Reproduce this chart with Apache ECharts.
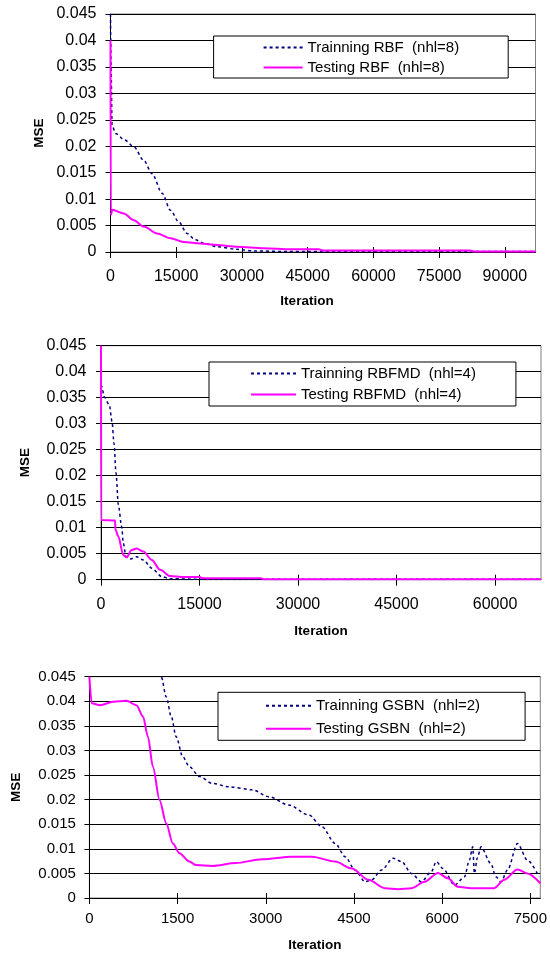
<html>
<head>
    <meta charset="utf-8">
    <script src="https://cdn.jsdelivr.net/npm/echarts@6.0.0/dist/echarts.min.js"></script>
    <style>
        body { margin: 0; background: #fff; }
        #chart { width: 550px; height: 956px; }
    </style>
</head>
<body>
    <div id="chart"></div>
</body>
<script type="text/javascript">
    // y 轴刻度 (三张图相同)
    var mseTicks = [0, 0.005, 0.01, 0.015, 0.02, 0.025, 0.03, 0.035, 0.04, 0.045];

    // 图1: RBF (nhl=8)
    var rbfTicks = [0, 15000, 30000, 45000, 60000, 75000, 90000];
    var rbfTrain = [[0, 0.045], [150, 0.034], [350, 0.024], [1140, 0.0224], [3200, 0.0212], [5320, 0.0199],
        [7600, 0.0173], [9500, 0.0148], [11780, 0.0111], [13680, 0.0079], [15570, 0.0057], [17480, 0.0035],
        [19380, 0.0023], [21500, 0.0016], [24300, 0.001], [28900, 0.0005], [33000, 0.0002], [40000, 0.0001],
        [97000, 0.0001]];
    var rbfTest = [[0, 0.04], [60, 0.0075], [150, 0.0071], [380, 0.008], [3030, 0.0073], [5320, 0.006],
        [7600, 0.0048], [10640, 0.0035], [13680, 0.0026], [16720, 0.0019], [20520, 0.0016], [24320, 0.0013],
        [28880, 0.001], [35000, 0.0007], [41000, 0.0005], [47500, 0.0005], [48500, 0.0003], [82000, 0.0003],
        [83000, 0.0001], [97000, 0.0001]];

    // 图2: RBFMD (nhl=4)
    var rbfmdTicks = [0, 15000, 30000, 45000, 60000];
    var rbfmdTrain = [[0, 0.0375], [150, 0.0371], [460, 0.0352], [1270, 0.0336], [1680, 0.0304], [1980, 0.0262],
        [2290, 0.0205], [2640, 0.0144], [3150, 0.0102], [3400, 0.007], [3810, 0.0044], [4500, 0.004],
        [5440, 0.0044], [6450, 0.0038], [7730, 0.0022], [9250, 0.0006], [10500, 0.0002], [14000, 0.0001],
        [67000, 0.0001]];
    var rbfmdTest = [[0, 0.045], [30, 0.0115], [2140, 0.0114], [2200, 0.0096], [2640, 0.0083], [3400, 0.0047],
        [3900, 0.0043], [4670, 0.0057], [5440, 0.006], [6450, 0.0054], [7730, 0.0038], [9000, 0.0019],
        [10530, 0.0007], [12560, 0.0005], [15000, 0.0005], [15500, 0.0003], [24300, 0.0003], [24800, 0.0001],
        [67000, 0.0001]];

    // 图3: GSBN (nhl=2)
    var gsbnTicks = [0, 1500, 3000, 4500, 6000, 7500];
    var gsbnTrain = [[1100, 0.052], [1222, 0.045], [1307, 0.0409], [1392, 0.0369], [1476, 0.0328], [1588, 0.0287],
        [1701, 0.0267], [1870, 0.0247], [2095, 0.0233], [2377, 0.0226], [2772, 0.022], [3054, 0.0206],
        [3392, 0.0189], [3730, 0.0169], [3955, 0.0145], [4181, 0.0111], [4350, 0.0084], [4519, 0.0057],
        [4689, 0.0033], [4801, 0.0037], [4970, 0.0057], [5168, 0.0081], [5309, 0.0074], [5477, 0.005],
        [5646, 0.0033], [5815, 0.0053], [5900, 0.0074], [6013, 0.006], [6211, 0.0026], [6380, 0.0043],
        [6464, 0.0077], [6520, 0.0104], [6549, 0.005], [6600, 0.0082], [6661, 0.0104], [6830, 0.007],
        [6915, 0.0043], [7000, 0.0033], [7113, 0.0057], [7282, 0.0111], [7451, 0.0077], [7648, 0.0043]];
    var gsbnTest = [[0, 0.045], [39, 0.0396], [180, 0.0392], [405, 0.0399], [630, 0.0401], [800, 0.0392],
        [912, 0.0369], [996, 0.0328], [1080, 0.0267], [1194, 0.0199], [1307, 0.0152], [1419, 0.0111],
        [1532, 0.0091], [1701, 0.0074], [1814, 0.0067], [2095, 0.0065], [2490, 0.0071], [2941, 0.0079],
        [3448, 0.0084], [3786, 0.0084], [4181, 0.0074], [4463, 0.006], [4745, 0.0037], [5027, 0.002],
        [5252, 0.0018], [5477, 0.002], [5703, 0.0033], [5929, 0.0051], [6098, 0.004], [6267, 0.0023],
        [6492, 0.002], [6887, 0.002], [7056, 0.0037], [7282, 0.0058], [7451, 0.005], [7670, 0.003]];

    var FONT = 'Liberation Sans';

    // 每张图的版面参数
    var panels = [
        { grid: { left: 110.5, top: 14, width: 425, height: 238 }, xMax: 97000, xTicks: rbfTicks,
          fs: 16, yMargin: 14, xMargin: 17, yGap: 64, xGap: 42, xNamePad: [0, 32, 0, 0],
          legend: { left: 213.6, top: 36, pad: [4, 49, 3, 49], w: 39, gap: 5 },
          names: ['Trainning RBF  (nhl=8)', 'Testing RBF  (nhl=8)'], train: rbfTrain, test: rbfTest },
        { grid: { left: 101, top: 345.7, width: 440, height: 234 }, xMax: 67000, xTicks: rbfmdTicks,
          fs: 16, yMargin: 14.5, xMargin: 17, yGap: 69, xGap: 45, xNamePad: [0, 0, 0, 0],
          legend: { left: 209, top: 362, pad: [4, 40, 4, 41], w: 45, gap: 6 },
          names: ['Trainning RBFMD  (nhl=4)', 'Testing RBFMD  (nhl=4)'], train: rbfmdTrain, test: rbfmdTest },
        { grid: { left: 89.4, top: 676.7, width: 453.6, height: 221.3 }, xMax: 7670, xTicks: gsbnTicks,
          fs: 15, yMargin: 13.5, xMargin: 13.5, yGap: 66, xGap: 40, xNamePad: [0, 0, 0, 0],
          legend: { left: 218, top: 692.3, pad: [6, 45, 4, 47], w: 45, gap: 8 },
          names: ['Trainning GSBN  (nhl=2)', 'Testing GSBN  (nhl=2)'], train: gsbnTrain, test: gsbnTest }
    ];

    var option = {
        animation: false,
        backgroundColor: '#fff',
        textStyle: { fontFamily: FONT, color: '#000' },
        grid: [], xAxis: [], yAxis: [], legend: [], series: []
    };

    panels.forEach(function (p, i) {
        option.grid.push({
            left: p.grid.left, top: p.grid.top, width: p.grid.width, height: p.grid.height,
            show: true, borderColor: '#808080', borderWidth: 1, backgroundColor: '#fff'
        });
        option.xAxis.push({
            type: 'value', gridIndex: i, min: 0, max: p.xMax,
            name: 'Iteration', nameLocation: 'middle', nameGap: p.xGap, nameMoveOverlap: false,
            nameTextStyle: { fontFamily: FONT, fontWeight: 'bold', fontSize: 13.5, color: '#000', padding: p.xNamePad },
            axisLine: { show: true, onZero: false, lineStyle: { color: '#000', width: 1 } },
            axisTick: { show: true, length: 6, customValues: p.xTicks, lineStyle: { color: '#000' } },
            axisLabel: {
                customValues: p.xTicks, margin: p.xMargin, fontFamily: FONT, fontSize: p.fs, color: '#000',
                formatter: function (v) { return String(v); }
            },
            splitLine: { show: false }
        });
        option.yAxis.push({
            type: 'value', gridIndex: i, min: 0, max: 0.045, interval: 0.005,
            name: 'MSE', nameLocation: 'middle', nameRotate: 90, nameGap: p.yGap, nameMoveOverlap: false,
            nameTextStyle: { fontFamily: FONT, fontWeight: 'bold', fontSize: 13.5, color: '#000' },
            axisLine: { show: true, onZero: false, lineStyle: { color: '#000', width: 1 } },
            axisTick: { show: true, length: 5, lineStyle: { color: '#000' } },
            axisLabel: {
                margin: p.yMargin, fontFamily: FONT, fontSize: p.fs, color: '#000',
                formatter: function (v) { return String(+v.toFixed(3)); }
            },
            splitLine: { show: true, lineStyle: { color: '#000', width: 1 } }
        });
        option.legend.push({
            data: p.names, orient: 'vertical', left: p.legend.left, top: p.legend.top,
            padding: p.legend.pad, itemGap: p.legend.gap, itemWidth: p.legend.w, itemHeight: 14,
            backgroundColor: '#fff', borderColor: '#000', borderWidth: 1, borderRadius: 0,
            itemStyle: { opacity: 0 },
            textStyle: { fontFamily: FONT, fontSize: 15, color: '#000', lineHeight: 15 }
        });
        option.series.push({
            name: p.names[0], type: 'line', xAxisIndex: i, yAxisIndex: i, data: p.train,
            symbol: 'none', clip: true, z: 3, smooth: 0.3, smoothMonotone: 'x',
            lineStyle: { color: '#000080', width: 1.5, type: [3, 3] }, itemStyle: { color: '#000080' }
        });
        option.series.push({
            name: p.names[1], type: 'line', xAxisIndex: i, yAxisIndex: i, data: p.test,
            symbol: 'none', clip: true, z: 4, smooth: 0.3, smoothMonotone: 'x',
            lineStyle: { color: '#ff00ff', width: 2 }, itemStyle: { color: '#ff00ff' }
        });
    });

    // x 轴刻度线向上伸出 (交叉刻度)
    panels.forEach(function (p, i) {
        option.xAxis.push({
            type: 'value', gridIndex: i, min: 0, max: p.xMax, position: 'bottom',
            axisLine: { show: false },
            axisTick: { show: true, inside: true, length: 5, customValues: p.xTicks, lineStyle: { color: '#000' } },
            axisLabel: { show: false },
            splitLine: { show: false }
        });
    });

    var myChart = echarts.init(document.getElementById('chart'));
    myChart.setOption(option);
</script>
</html>
